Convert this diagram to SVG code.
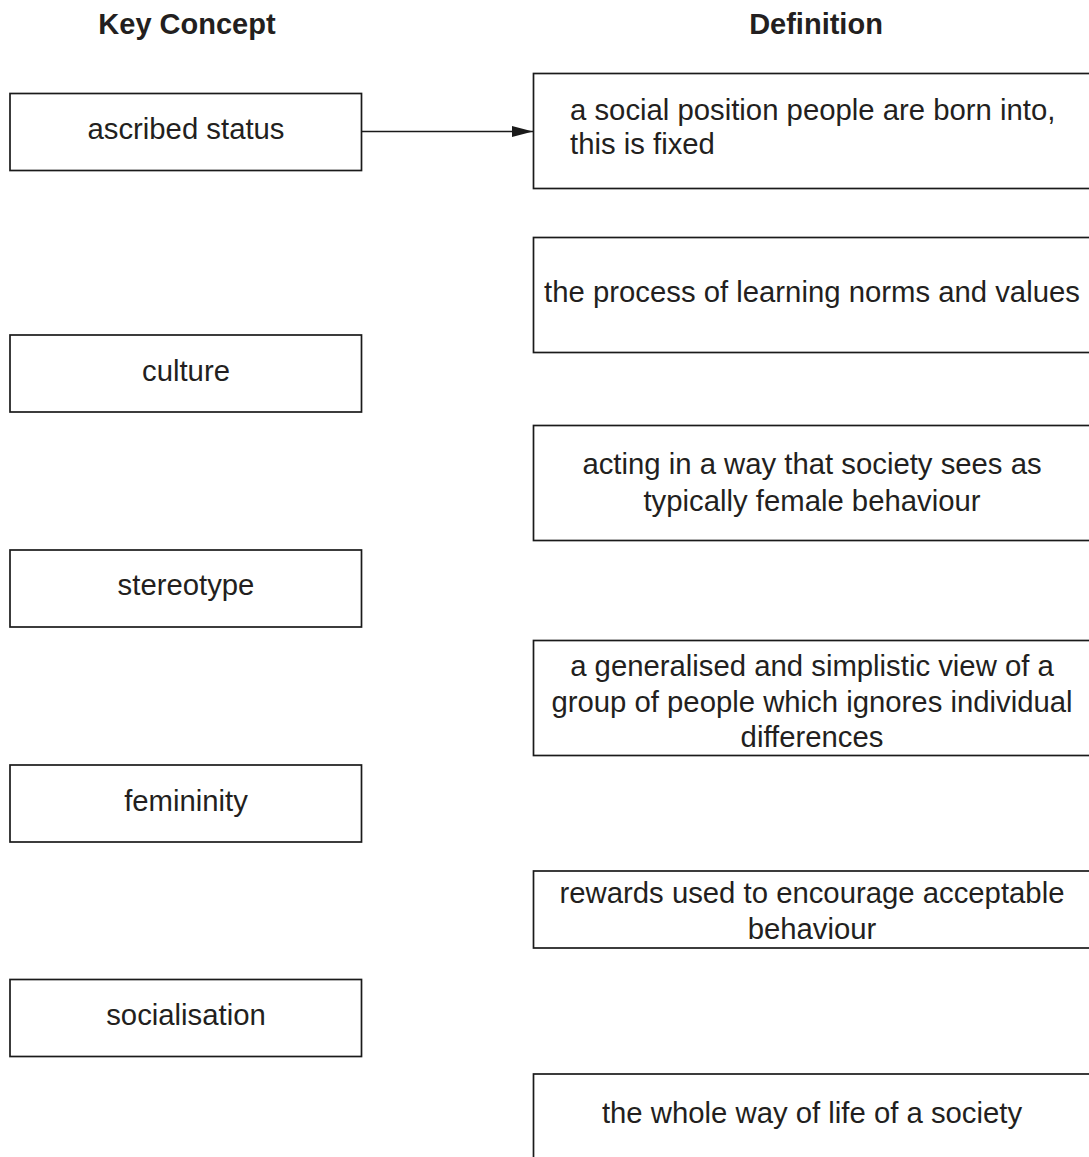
<svg xmlns="http://www.w3.org/2000/svg" width="1089" height="1157" viewBox="0 0 1089 1157">
<style>
  .box { fill: #ffffff; stroke: #1a1a1a; stroke-width: 1.7; }
  .t { font-family: "Liberation Sans", Arial, Helvetica, sans-serif; font-size: 29.3px; fill: #231f20; }
  .c { text-anchor: middle; }
  .h { font-weight: bold; text-anchor: middle; font-size: 29px; }
  .conn { stroke: #1a1a1a; stroke-width: 1.7; fill: none; }
</style>
<defs>
  <marker id="arrow" markerWidth="21" markerHeight="11" refX="21" refY="5.5" orient="auto" markerUnits="userSpaceOnUse">
    <polygon points="0,0 21,5.5 0,11" fill="#1a1a1a"/>
  </marker>
</defs>
<rect width="1089" height="1157" fill="#ffffff"/>

<text class="t h" x="187" y="34">Key Concept</text>
<text class="t h" x="816" y="34">Definition</text>

<g id="concept-ascribed-status">
  <rect class="box" x="10" y="93.5" width="351.5" height="77"/>
  <text class="t c" x="186" y="139">ascribed status</text>
</g>
<g id="concept-culture">
  <rect class="box" x="10" y="335" width="351.5" height="77"/>
  <text class="t c" x="186" y="381">culture</text>
</g>
<g id="concept-stereotype">
  <rect class="box" x="10" y="550" width="351.5" height="77"/>
  <text class="t c" x="186" y="595">stereotype</text>
</g>
<g id="concept-femininity">
  <rect class="box" x="10" y="765" width="351.5" height="77"/>
  <text class="t c" x="186" y="811">femininity</text>
</g>
<g id="concept-socialisation">
  <rect class="box" x="10" y="979.5" width="351.5" height="77"/>
  <text class="t c" x="186" y="1025">socialisation</text>
</g>

<g id="def-1">
  <rect class="box" x="533.5" y="73.5" width="562" height="115"/>
  <text class="t" x="570" y="120">a social position people are born into,</text>
  <text class="t" x="570" y="154">this is fixed</text>
</g>
<g id="def-2">
  <rect class="box" x="533.5" y="237.5" width="562" height="115"/>
  <text class="t c" x="812" y="302">the process of learning norms and values</text>
</g>
<g id="def-3">
  <rect class="box" x="533.5" y="425.5" width="562" height="115"/>
  <text class="t c" x="812" y="474">acting in a way that society sees as</text>
  <text class="t c" x="812" y="511">typically female behaviour</text>
</g>
<g id="def-4">
  <rect class="box" x="533.5" y="640.5" width="562" height="115"/>
  <text class="t c" x="812" y="676">a generalised and simplistic view of a</text>
  <text class="t c" x="812" y="712">group of people which ignores individual</text>
  <text class="t c" x="812" y="747">differences</text>
</g>
<g id="def-5">
  <rect class="box" x="533.5" y="871" width="562" height="77"/>
  <text class="t c" x="812" y="903">rewards used to encourage acceptable</text>
  <text class="t c" x="812" y="939">behaviour</text>
</g>
<g id="def-6">
  <rect class="box" x="533.5" y="1074" width="562" height="115"/>
  <text class="t c" x="812" y="1123">the whole way of life of a society</text>
</g>

<g id="connectors">
  <line class="conn" x1="361.5" y1="131.5" x2="533" y2="131.5" marker-end="url(#arrow)"/>
</g>
</svg>
